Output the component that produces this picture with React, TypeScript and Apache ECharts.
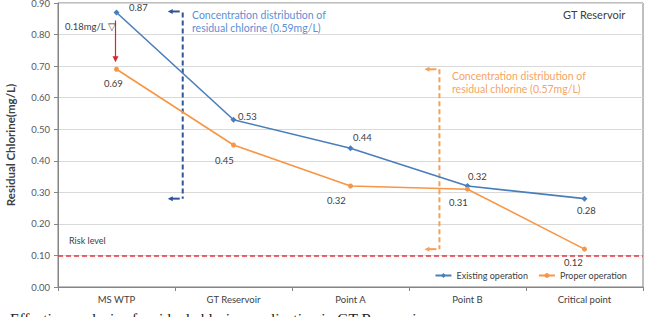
import React, { useEffect, useRef } from "react";
import * as echarts from "echarts";

const categories = ["MS WTP", "GT Reservoir", "Point A", "Point B", "Critical point"];
const existingOperation = [0.87, 0.53, 0.44, 0.32, 0.28];
const properOperation = [0.69, 0.45, 0.32, 0.31, 0.12];
const riskLevel = 0.1;
const yTicks = { min: 0, max: 0.9, interval: 0.1 };

// label offsets (dx, dy) from each marker centre
const existingLabelOffsets: [number, number][] = [[22, -5], [14, -3], [12, -11], [10, -10], [2, 12]];
const properLabelOffsets: [number, number][] = [[-3, 14], [-9, 15], [-14, 14], [-9, 13], [-11, 13]];

const FONT = "Lato, 'Liberation Sans', sans-serif";
const BLUE = "#4a7ebb";
const ORANGE = "#f79646";

export default function App() {
  const ref = useRef<HTMLDivElement>(null);

  useEffect(() => {
    if (!ref.current) return;
    const chart = echarts.init(ref.current, undefined, { renderer: "svg" });

    const labelled = (vals: number[], offs: [number, number][]) =>
      vals.map((v, i) => ({
        value: v,
        label: { show: true, position: "inside", offset: offs[i], formatter: v.toFixed(2) },
      }));

    chart.setOption({
      animation: false,
      textStyle: { fontFamily: FONT },
      grid: {
        left: 58, right: 3, top: 3, bottom: 30,
        outerBoundsMode: "none",
        show: true, borderColor: "#7f7f7f", borderWidth: 1,
      },
      xAxis: {
        type: "category",
        data: categories,
        boundaryGap: true,
        axisLine: { lineStyle: { color: "#868686" } },
        axisTick: { show: true, lineStyle: { color: "#868686" }, length: 4 },
        axisLabel: { color: "#404040", fontSize: 9.5, margin: 7, fontFamily: FONT },
      },
      yAxis: {
        type: "value",
        min: yTicks.min,
        max: yTicks.max,
        interval: yTicks.interval,
        name: "Residual Chlorine(mg/L)",
        nameLocation: "middle",
        nameGap: 42,
        nameTextStyle: { color: "#404040", fontSize: 11.5, fontWeight: "bold", fontFamily: FONT },
        axisLine: { show: true, lineStyle: { color: "#868686" } },
        axisTick: { show: true, lineStyle: { color: "#868686" }, length: 4 },
        axisLabel: { color: "#595959", fontSize: 9.5, formatter: (v: number) => v.toFixed(2), fontFamily: FONT },
        splitLine: { lineStyle: { color: "#d9d9d9" } },
      },
      legend: {
        right: 14,
        bottom: 32,
        itemWidth: 16,
        itemHeight: 6,
        itemGap: 10,
        textStyle: { color: "#404040", fontSize: 9, fontFamily: FONT },
        data: ["Existing operation", "Proper operation"],
      },
      series: [
        {
          name: "Existing operation",
          type: "line",
          data: labelled(existingOperation, existingLabelOffsets),
          symbol: "diamond",
          symbolSize: 6,
          lineStyle: { color: BLUE, width: 1.6 },
          itemStyle: { color: BLUE },
          label: { color: "#404040", fontSize: 9.5, fontFamily: FONT },
          markLine: {
            silent: true,
            symbol: "none",
            label: { show: false },
            lineStyle: { color: "#e0393e", type: [5, 3], width: 1.6 },
            data: [{ yAxis: riskLevel }],
          },
        },
        {
          name: "Proper operation",
          type: "line",
          data: labelled(properOperation, properLabelOffsets),
          symbol: "circle",
          symbolSize: 5,
          lineStyle: { color: ORANGE, width: 1.6 },
          itemStyle: { color: ORANGE },
          label: { color: "#404040", fontSize: 9.5, fontFamily: FONT },
        },
      ],
    });

    // annotation geometry derived from the axes
    const px = (cat: number, val: number) => chart.convertToPixel({ gridIndex: 0 }, [cat, val]) as number[];
    const catX = (c: number) => {
      const a = px(Math.floor(c), 0)[0];
      const b = px(Math.floor(c) + 1, 0)[0];
      return a + (c - Math.floor(c)) * (b - a);
    };
    const yOf = (v: number) => px(0, v)[1];

    const existingMax = Math.max(...existingOperation);
    const existingMin = Math.min(...existingOperation);
    const properMax = Math.max(...properOperation);
    const properMin = Math.min(...properOperation);
    const drop = existingOperation[0] - properOperation[0];

    const redX = px(0, 0)[0] - 1;
    const redTop = yOf(existingOperation[0]) + 8;
    const redBottom = yOf(properOperation[0]) - 7;

    const blueX = catX(0.566);
    const blueTop = yOf(existingMax);
    const blueBottom = yOf(existingMin);
    const orangeX = catX(2.76);
    const orangeTop = yOf(properMax);
    const orangeBottom = yOf(properMin);

    const DARKBLUE = "#2f5597";
    const DASHORANGE = "#f4a15c";

    const leftArrow = (x: number, y: number, color: string) => [
      { type: "line", shape: { x1: x - 3, y1: y, x2: x - 11, y2: y }, style: { stroke: color, lineWidth: 2 } },
      { type: "polygon", shape: { points: [[x - 15, y], [x - 10, y - 2.5], [x - 10, y + 2.5]] }, style: { fill: color } },
    ];

    chart.setOption({
      graphic: [
        // drop between operations at the plant
        { type: "line", shape: { x1: redX, y1: redTop, x2: redX, y2: redBottom - 5 }, style: { stroke: "#d9262c", lineWidth: 1.2 } },
        { type: "polygon", shape: { points: [[redX - 3, redBottom - 6], [redX + 3, redBottom - 6], [redX, redBottom]] }, style: { fill: "#d9262c" } },
        { type: "text", x: 65, y: 26, style: { text: drop.toFixed(2) + "mg/L ▽", fill: "#404040", fontSize: 9.5, fontFamily: FONT, verticalAlign: "middle" } },

        // spread of existing operation
        { type: "line", shape: { x1: blueX, y1: blueTop, x2: blueX, y2: blueBottom }, style: { stroke: DARKBLUE, lineWidth: 2, lineDash: [5, 3] } },
        ...leftArrow(blueX, blueTop - 1, DARKBLUE),
        ...leftArrow(blueX, blueBottom, DARKBLUE),
        {
          type: "text", x: 192, y: 9,
          style: { text: "Concentration distribution of\nresidual chlorine (" + (existingMax - existingMin).toFixed(2) + "mg/L)", fill: "#5b8fd6", fontSize: 10.5, lineHeight: 12.5, fontFamily: FONT },
        },

        // spread of proper operation
        { type: "line", shape: { x1: orangeX, y1: orangeTop, x2: orangeX, y2: orangeBottom }, style: { stroke: DASHORANGE, lineWidth: 2, lineDash: [5, 3] } },
        ...leftArrow(orangeX, orangeTop, DASHORANGE),
        ...leftArrow(orangeX, orangeBottom, DASHORANGE),
        {
          type: "text", x: 452, y: 69,
          style: { text: "Concentration distribution of\nresidual chlorine (" + (properMax - properMin).toFixed(2) + "mg/L)", fill: "#f5a564", fontSize: 10.5, lineHeight: 13.5, fontFamily: FONT },
        },

        { type: "text", x: 69, y: yOf(riskLevel) - 15, style: { text: "Risk level", fill: "#404040", fontSize: 9, fontFamily: FONT, verticalAlign: "middle" } },
        { type: "text", x: 563, y: 14, style: { text: "GT Reservoir", fill: "#404040", fontSize: 11, fontFamily: FONT, verticalAlign: "middle" } },

        // figure caption below the chart
        { type: "text", x: 10, y: 310, style: { text: "Effective analysis of residual chlorine application in GT Reservoir", fill: "#222", fontSize: 15.5, fontFamily: "'Liberation Serif', serif" } },
      ],
    });

    return () => chart.dispose();
  }, []);

  return <div ref={ref} style={{ position: "fixed", left: 0, top: 0, width: 646, height: 317, background: "#fff" }} />;
}
